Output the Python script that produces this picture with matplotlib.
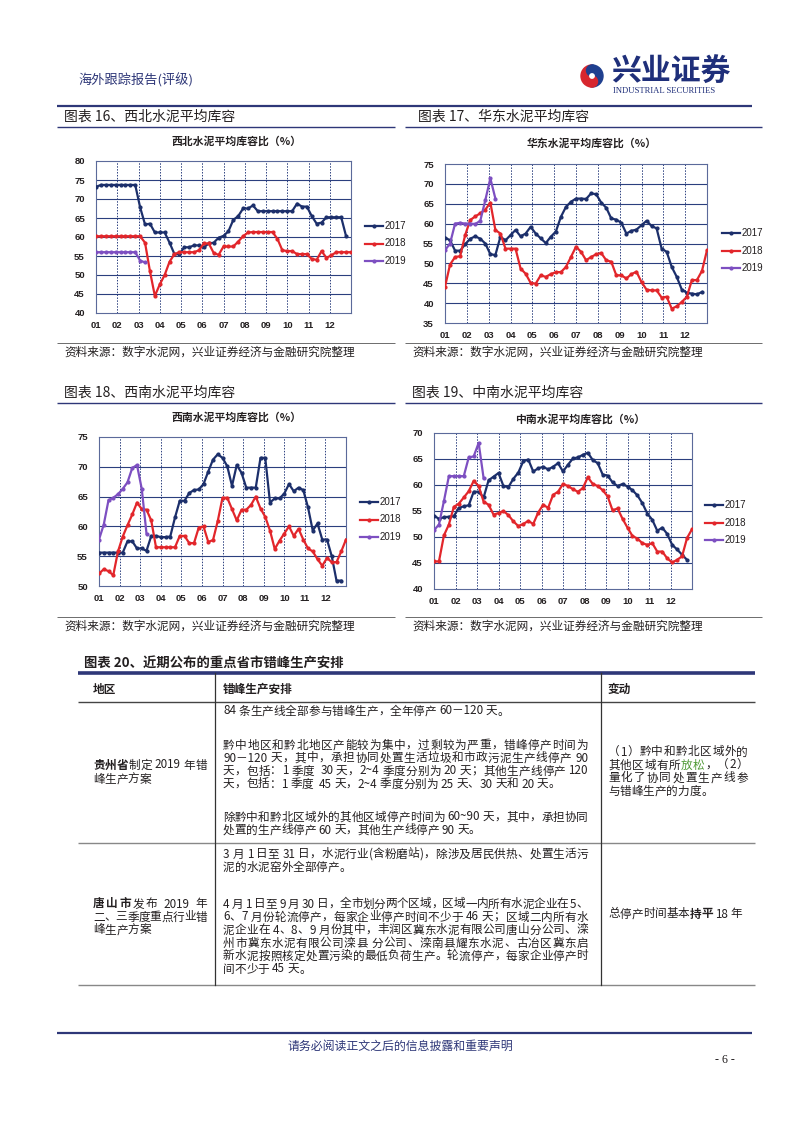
import re
import numpy as np
import matplotlib
matplotlib.use("Agg")
import matplotlib.pyplot as plt
from matplotlib import patches

W, H = 802, 1133
plt.rcParams["font.family"] = ["Noto Sans CJK SC", "DejaVu Sans"]
LATIN = ["Liberation Sans", "DejaVu Sans"]

NAVY = "#1c2f6b"
RED = "#e2262b"
PURPLE = "#7d4fc1"
GRID = "#2b3f7e"
TXT = "#231f20"
HEAD = "#2e3778"
GREEN = "#4f9a35"

MONTHS = ["01", "02", "03", "04", "05", "06", "07", "08", "09", "10", "11", "12"]
YEARS = ["2017", "2018", "2019"]
SOURCE = "资料来源：数字水泥网，兴业证券经济与金融研究院整理"

# 周度数据（每年约 52 周）
NW_2017 = [73.2, 73.7, 73.7, 73.7, 73.7, 73.7, 73.7, 73.7, 73.7, 67.8, 63.3, 63.5, 61.2,
           61.2, 61.2, 58.5, 55.5, 55.5, 57.3, 57.3, 57.8, 57.8, 57.3, 58.3, 58.5, 59.8,
           60.3, 61.5, 64.5, 65.5, 67.5, 67.5, 68.3, 66.8, 66.8, 66.8, 66.8, 66.8, 66.8,
           66.8, 66.8, 68.8, 68.0, 68.0, 65.5, 63.5, 63.8, 65.2, 65.2, 65.2, 65.2, 60.2]
NW_2018 = [60.2, 60.2, 60.2, 60.2, 60.2, 60.2, 60.2, 60.2, 60.2, 60.2, 58.5, 51.0, 44.5,
           47.5, 50.0, 53.5, 55.5, 56.0, 56.0, 56.0, 56.0, 56.5, 58.3, 58.3, 55.8, 55.3,
           57.5, 57.5, 57.5, 58.8, 60.2, 61.2, 61.3, 61.3, 61.3, 61.3, 61.3, 59.5, 56.5,
           56.3, 56.3, 55.5, 55.5, 55.5, 54.2, 54.0, 56.3, 54.5, 55.2, 56.0, 56.0, 56.0, 56.0]
NW_2019 = [56.0, 56.0, 56.0, 56.0, 56.0, 56.0, 56.0, 56.0, 56.0, 53.8, 53.3]

EC_2017 = [56.5, 55.8, 53.2, 53.2, 54.8, 56.2, 56.8, 56.2, 55.0, 52.3, 52.1, 56.7, 55.8,
           57.1, 58.4, 56.8, 57.5, 59.2, 57.5, 56.3, 55.1, 56.7, 58.0, 61.7, 64.2, 65.5,
           66.3, 66.3, 66.2, 67.6, 67.4, 65.3, 64.0, 61.3, 61.0, 60.2, 57.5, 58.2, 58.5,
           59.6, 60.7, 59.4, 58.8, 53.7, 52.9, 49.1, 46.6, 43.4, 42.6, 42.4, 42.2, 42.8]
EC_2018 = [44.1, 49.7, 51.6, 51.8, 57.1, 60.9, 61.8, 62.6, 63.5, 65.3, 58.4, 57.5, 53.7,
           53.7, 53.7, 48.7, 47.4, 45.1, 44.9, 47.0, 46.6, 47.3, 47.8, 47.8, 49.1, 51.6,
           54.2, 52.9, 50.8, 51.6, 52.3, 52.6, 50.8, 50.4, 47.0, 47.0, 46.2, 47.3, 47.9,
           45.3, 43.4, 43.2, 43.2, 41.4, 41.6, 38.6, 39.2, 40.3, 41.6, 45.8, 45.8, 48.1, 53.3]
EC_2019 = [53.3, 55.0, 60.0, 60.2, 60.0, 60.0, 59.9, 60.7, 65.9, 71.4, 66.3]

SW_2017 = [55.6, 55.6, 55.6, 55.6, 55.6, 55.6, 57.5, 57.5, 56.3, 56.3, 55.9, 58.4, 58.4,
           58.2, 58.2, 58.3, 61.5, 64.3, 64.3, 65.6, 66.1, 66.2, 67.1, 69.2, 71.2, 72.1,
           71.5, 70.1, 66.8, 70.3, 69.0, 66.5, 66.5, 66.5, 71.5, 71.5, 64.0, 64.7, 64.7,
           65.5, 67.1, 65.9, 66.5, 66.1, 63.2, 59.3, 60.5, 57.8, 57.8, 55.0, 50.9, 50.9]
SW_2018 = [52.1, 52.8, 52.5, 51.8, 55.8, 58.3, 60.2, 62.0, 64.0, 62.9, 62.8, 61.0, 56.5,
           56.5, 56.5, 56.5, 56.5, 58.4, 58.4, 57.2, 57.2, 59.8, 60.0, 57.4, 57.7, 60.9,
           64.8, 64.8, 62.9, 61.0, 62.8, 62.8, 63.6, 65.0, 63.0, 61.6, 59.3, 56.2, 57.6,
           58.8, 60.0, 58.4, 59.6, 57.8, 56.3, 55.8, 54.5, 53.4, 54.7, 54.0, 54.0, 55.8, 57.8]
SW_2019 = [57.8, 60.3, 64.4, 64.8, 65.4, 66.3, 67.4, 69.8, 70.3, 66.3, 58.8]

CS_2017 = [54.1, 53.5, 53.8, 53.9, 54.0, 55.6, 55.9, 56.1, 58.7, 58.7, 57.6, 60.9, 61.6,
           62.3, 59.8, 59.6, 61.2, 62.4, 64.6, 64.9, 62.6, 63.2, 63.5, 63.0, 63.5, 64.2,
           62.6, 63.9, 65.1, 65.3, 65.8, 66.2, 64.8, 64.2, 62.0, 61.8, 60.5, 59.8, 60.2,
           59.7, 59.0, 58.0, 56.5, 54.5, 53.3, 51.2, 51.8, 50.6, 48.5, 47.6, 46.6, 45.6]
CS_2018 = [45.3, 45.3, 50.3, 52.4, 55.8, 56.4, 57.6, 58.8, 60.8, 59.8, 56.8, 56.2, 54.3,
           54.6, 55.0, 54.2, 53.0, 52.1, 52.5, 53.1, 52.5, 54.7, 56.2, 55.6, 58.1, 58.7,
           60.2, 59.8, 59.2, 58.7, 59.4, 61.5, 60.2, 59.8, 59.0, 57.8, 55.1, 55.5, 53.5,
           51.8, 50.2, 49.7, 48.8, 48.5, 48.8, 47.2, 47.2, 45.9, 45.1, 45.6, 46.3, 49.8, 51.5]
CS_2019 = [51.3, 52.4, 56.9, 61.7, 61.7, 61.7, 61.7, 65.3, 65.5, 68.1, 61.3]

CHARTS = [
    dict(head="图表 16、西北水泥平均库容", title="西北水泥平均库容比（%）",
         series=[NW_2017, NW_2018, NW_2019], ylim=(40, 80)),
    dict(head="图表 17、华东水泥平均库容", title="华东水泥平均库容比（%）",
         series=[EC_2017, EC_2018, EC_2019], ylim=(35, 75)),
    dict(head="图表 18、西南水泥平均库容", title="西南水泥平均库容比（%）",
         series=[SW_2017, SW_2018, SW_2019], ylim=(50, 75)),
    dict(head="图表 19、中南水泥平均库容", title="中南水泥平均库容比（%）",
         series=[CS_2017, CS_2018, CS_2019], ylim=(40, 70)),
]
# 版面位置（像素）：绘图区 l, t, r, b；标题；图例；栏头
LAYOUT = [
    dict(rect=(96, 161, 351, 313), title=(237, 141), leg=(365, 226), head=(64, 117)),
    dict(rect=(445, 164, 707, 323), title=(592, 143), leg=(722, 233), head=(418, 117)),
    dict(rect=(99, 437, 346, 586), title=(237, 417), leg=(360, 502), head=(64, 393)),
    dict(rect=(434, 433, 692, 589), title=(580, 419), leg=(705, 505), head=(412, 393)),
]

fig = plt.figure(figsize=(W / 100, H / 100), dpi=100)
page = fig.add_axes([0, 0, 1, 1])
page.set_xlim(0, W)
page.set_ylim(H, 0)
page.axis("off")
renderer = fig.canvas.get_renderer()


def hline(y, x0, x1, lw=1.0, color=HEAD):
    page.plot([x0, x1], [y, y], color=color, lw=lw, solid_capstyle="butt")


# 页眉
page.text(78, 80, "海外跟踪报告(评级)", fontsize=9.5, color=HEAD, va="center")
page.add_patch(patches.Wedge((592, 76), 11, 90, 270, color="#d7262e"))
page.add_patch(patches.Wedge((592, 76), 11, 270, 90, color="#1f3f8f"))
page.add_patch(patches.Circle((592, 70.5), 5.5, color="#1f3f8f"))
page.add_patch(patches.Circle((592, 81.5), 5.5, color="#d7262e"))
page.add_patch(patches.Circle((592, 76), 2.2, color="white"))
page.text(611, 72, "兴业证券", fontsize=21.5, fontweight="bold", color="#1f2f7a", va="center")
page.text(613, 91, "INDUSTRIAL SECURITIES", fontsize=6.2, family=["Liberation Serif"],
          color="#1f2f7a", va="center")
hline(106, 57, 752, lw=1.6)

# 四张库容图
for cfg, lay in zip(CHARTS, LAYOUT):
    l, t, r, b = lay["rect"]
    hx, hy = lay["head"]
    col0 = 57 if hx < 300 else 405
    col1 = 395 if hx < 300 else 762
    page.text(hx, hy, cfg["head"], fontsize=10, color=TXT, va="center")
    hline(hy + 10, col0, col1, lw=1.0)
    page.text(*lay["title"], cfg["title"], fontsize=7.8, fontweight="bold",
              color=TXT, ha="center", va="center")

    ax = fig.add_axes([l / W, 1 - b / H, (r - l) / W, (b - t) / H])
    for vals, color in zip(cfg["series"], [NAVY, RED, PURPLE]):
        x = np.arange(len(vals)) * 12 / 52
        ax.plot(x, vals, color=color, lw=1.6, marker="o", ms=2.0, zorder=3)
    y0, y1 = cfg["ylim"]
    ax.set_xlim(0, 12)
    ax.set_ylim(y0, y1)
    ax.set_yticks(np.arange(y0, y1 + 1, 5))
    ax.set_xticks(np.arange(12))
    ax.set_xticklabels(MONTHS)
    for lab in ax.get_xticklabels() + ax.get_yticklabels():
        lab.set_family(LATIN)
        lab.set_fontweight("bold")
        lab.set_fontsize(6.8)
        lab.set_color(TXT)
    ax.tick_params(length=0, pad=6)
    ax.tick_params(axis="y", pad=8)
    for yv in np.arange(y0 + 5, y1, 5):
        ax.axhline(yv, color=GRID, lw=0.8, zorder=1)
    for xv in range(1, 12):
        ax.axvline(xv, color=GRID, lw=0.7, ls=(0, (1.5, 1.5)), zorder=1)
    for s in ax.spines.values():
        s.set_color("#5b6a9a")
        s.set_linewidth(0.8)

    lx, ly = lay["leg"]
    for i, (yr, color) in enumerate(zip(YEARS, [NAVY, RED, PURPLE])):
        yy = ly + i * 17.5
        page.plot([lx, lx + 9, lx + 18], [yy] * 3, color=color, lw=1.6,
                  marker="o", ms=2.0, markevery=[1])
        page.text(lx + 20, yy, yr, fontsize=7, family=LATIN, color=TXT, va="center")

    sy = 352 if t < 300 else 626
    hline(sy - 9, col0, col1, lw=0.6, color="#555555")
    page.text(col0 + 7, sy, SOURCE, fontsize=8.4, color=TXT, va="center")

# 表格
FS = 8.4
TOKEN = re.compile(r"[A-Za-z0-9~\-－.]+|\s+|.")


def put(x0, y, segs, x1=None):
    """Write a table line; segs = [(text, style)]. With x1 the line is justified."""
    items = []
    for s, kw in segs:
        for tk in TOKEN.findall(s):
            opts = dict(fontsize=FS, color=TXT, va="center")
            opts.update(kw)
            items.append(page.text(x0, y, tk, **opts))
    widths = [it.get_window_extent(renderer).width for it in items]
    gap = 0.0
    if x1 is not None and len(items) > 1:
        gap = (x1 - x0 - sum(widths)) / (len(items) - 1)
    x = x0
    for it, w in zip(items, widths):
        it.set_x(x)
        x += w + gap


page.text(84, 664, "图表 20、近期公布的重点省市错峰生产安排", fontsize=9.6, color=TXT,
          va="center", fontweight="bold")
hline(673, 78, 755, lw=2.6)
for x, s in [(93, "地区"), (223, "错峰生产安排"), (608, "变动")]:
    page.text(x, 689, s, fontsize=FS, fontweight="bold", style="italic", color=TXT,
              va="center")
hline(702, 78, 755, lw=1.0, color="#444444")
hline(843, 78, 755, lw=1.0, color="#888888")
hline(985, 78, 755, lw=1.0, color="#888888")
for x in (215, 601):
    page.plot([x, x], [673, 985], color="#333333", lw=0.9)

MID = (223, 588)
GZ_PLAN = [
    (711, "84 条生产线全部参与错峰生产，全年停产 60－120 天。", False),
    (745, "黔中地区和黔北地区产能较为集中，过剩较为严重，错峰停产时间为", True),
    (758, "90－120 天，其中，承担协同处置生活垃圾和市政污泥生产线停产 90", True),
    (771, "天，包括：1 季度  30 天，2~4 季度分别为 20 天；其他生产线停产 120", True),
    (784, "天，包括：1 季度  45 天，2~4 季度分别为 25 天、30 天和 20 天。", False),
    (817, "除黔中和黔北区域外的其他区域停产时间为 60~90 天，其中，承担协同", True),
    (830, "处置的生产线停产 60 天，其他生产线停产 90 天。", False),
]
TS_PLAN = [
    (854, "3 月 1 日至 31 日，水泥行业(含粉磨站)，除涉及居民供热、处置生活污", True),
    (867, "泥的水泥窑外全部停产。", False),
    (904, "4 月 1 日至 9 月 30 日，全市划分两个区域，区域一内所有水泥企业在 5、", True),
    (917, "6、7 月份轮流停产，每家企业停产时间不少于 46 天；区域二内所有水", True),
    (930, "泥企业在 4、8、9 月份其中，丰润区冀东水泥有限公司唐山分公司、滦", True),
    (943, "州市冀东水泥有限公司滦县 分公司、滦南县耀东水泥、古冶区冀东启", True),
    (956, "新水泥按照核定处置污染的最低负荷生产。轮流停产，每家企业停产时", True),
    (969, "间不少于 45 天。", False),
]
for y, s, full in GZ_PLAN + TS_PLAN:
    put(MID[0], y, [(s, {})], MID[1] if full else None)

LEFT = (93, 207)
put(LEFT[0], 765, [("贵州省", dict(fontweight="bold")), ("制定 2019 年错", {})], LEFT[1])
put(LEFT[0], 779, [("峰生产方案", {})])
put(LEFT[0], 904, [("唐山市", dict(fontweight="bold")), ("发布 2019 年", {})], LEFT[1])
put(LEFT[0], 917, [("二、三季度重点行业错", {})], LEFT[1])
put(LEFT[0], 930, [("峰生产方案", {})])

RIGHT = (608, 748)
put(RIGHT[0], 752, [("（1）黔中和黔北区域外的", {})], RIGHT[1])
put(RIGHT[0], 765, [("其他区域有所", {}), ("放松", dict(color=GREEN)), ("，（2）", {})], RIGHT[1])
put(RIGHT[0], 778, [("量化了协同处置生产线参", {})], RIGHT[1])
put(RIGHT[0], 791, [("与错峰生产的力度。", {})])
put(RIGHT[0], 914, [("总停产时间基本", {}), ("持平", dict(fontweight="bold")), (" 18 年", {})])

# 页脚
hline(1033, 57, 752, lw=1.6)
page.text(400, 1046, "请务必阅读正文之后的信息披露和重要声明", fontsize=8.6, color=HEAD,
          ha="center", va="center")
page.text(735, 1060, "- 6 -", fontsize=8.6, color=TXT, ha="right", va="center",
          family=["Liberation Serif"])

fig.savefig("out.png", dpi=100)
